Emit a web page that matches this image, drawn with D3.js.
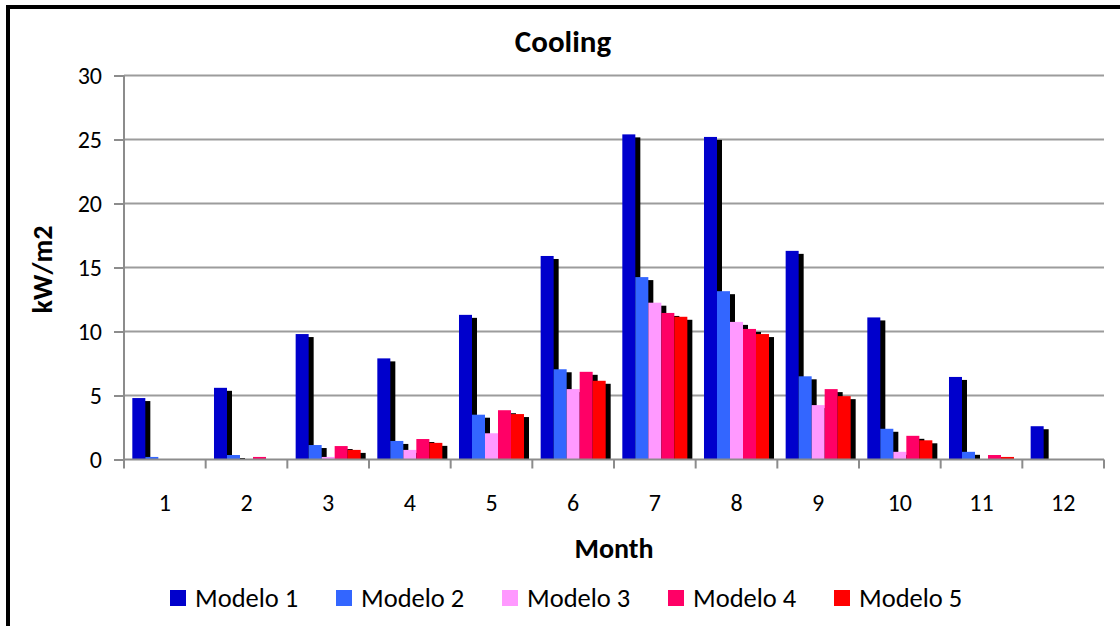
<!DOCTYPE html>
<html>
<head>
<meta charset="utf-8">
<script src="https://cdn.jsdelivr.net/npm/d3@7/dist/d3.min.js"></script>
<style>
  html, body { margin: 0; padding: 0; background: #fff; }
  svg { display: block; }
  text { font-family: Carlito, Calibri, Lato, sans-serif; fill: #000; }
</style>
</head>
<body>
<svg id="chart" width="1120" height="626"></svg>
<script>
// Monthly cooling demand per model (kW/m2)
const months = ["1", "2", "3", "4", "5", "6", "7", "8", "9", "10", "11", "12"];
const seriesNames = ["Modelo 1", "Modelo 2", "Modelo 3", "Modelo 4", "Modelo 5"];
const seriesColors = ["#0000CC", "#3366FF", "#FF99FF", "#FF0066", "#FF0000"];
const modelo1 = [4.8, 5.6, 9.8, 7.9, 11.3, 15.9, 25.4, 25.2, 16.3, 11.1, 6.45, 2.6];
const modelo2 = [0.2, 0.35, 1.13, 1.45, 3.5, 7.05, 14.25, 13.15, 6.5, 2.4, 0.6, 0];
const modelo3 = [0, 0, 0.2, 0.75, 2.05, 5.5, 12.25, 10.75, 4.25, 0.6, 0, 0];
const modelo4 = [0, 0.2, 1.05, 1.6, 3.85, 6.85, 11.45, 10.2, 5.5, 1.85, 0.35, 0];
const modelo5 = [0, 0, 0.75, 1.3, 3.55, 6.15, 11.15, 9.8, 4.95, 1.5, 0.2, 0];
const yTicks = [0, 5, 10, 15, 20, 25, 30];

const seriesValues = [modelo1, modelo2, modelo3, modelo4, modelo5];

const svg = d3.select("#chart");

// chart area frame
svg.append("rect")
  .attr("x", 8).attr("y", 7).attr("width", 1140).attr("height", 650)
  .attr("fill", "#fff").attr("stroke", "#000").attr("stroke-width", 4);

const plot = { left: 124, right: 1104, top: 75.5, bottom: 459.5 };

const x0 = d3.scaleBand().domain(months).range([plot.left, plot.right]).padding(0);
const x1 = d3.scaleBand().domain(seriesNames).range([0, x0.bandwidth()])
  .paddingInner(0).paddingOuter(0.64);
const y = d3.scaleLinear().domain([0, 30]).range([plot.bottom, plot.top]);

// horizontal gridlines
svg.append("g").selectAll("line").data(yTicks.slice(1)).join("line")
  .attr("x1", plot.left).attr("x2", plot.right)
  .attr("y1", d => y(d)).attr("y2", d => y(d))
  .attr("stroke", "#9c9c9c").attr("stroke-width", 2);

// bars with drop shadow
const shadowDx = 5, shadowDy = 3;
const bars = svg.append("g");
seriesNames.forEach((name, si) => {
  const vals = seriesValues[si];
  const g = bars.append("g");
  months.forEach((m, mi) => {
    const v = vals[mi];
    if (v <= 0) return;
    const bx = x0(m) + x1(name);
    const top = y(v);
    g.append("rect")
      .attr("x", bx + shadowDx).attr("y", Math.min(top + shadowDy, y(0)))
      .attr("width", x1.bandwidth())
      .attr("height", Math.max(0, y(0) - top - shadowDy))
      .attr("fill", "#000");
    g.append("rect")
      .attr("x", bx).attr("y", top)
      .attr("width", x1.bandwidth()).attr("height", y(0) - top)
      .attr("fill", seriesColors[si]);
  });
});

// y axis
const yAxis = svg.append("g").attr("transform", `translate(${plot.left},0)`)
  .call(d3.axisLeft(y).tickValues(yTicks).tickSize(10).tickPadding(12).tickFormat(d3.format("d")));
yAxis.select(".domain").remove();
yAxis.selectAll(".tick line").attr("stroke", "#8c8c8c").attr("stroke-width", 2);
yAxis.selectAll(".tick text").attr("font-size", 24).attr("font-family", null);
yAxis.append("line").attr("x1", 0).attr("x2", 0)
  .attr("y1", plot.top).attr("y2", plot.bottom + 9)
  .attr("stroke", "#8c8c8c").attr("stroke-width", 2);

// x axis
const xAxis = svg.append("g").attr("transform", `translate(0,${plot.bottom})`);
xAxis.append("line").attr("x1", plot.left).attr("x2", plot.right)
  .attr("y1", 0).attr("y2", 0).attr("stroke", "#8c8c8c").attr("stroke-width", 2);
xAxis.selectAll(".bound").data(months).join("line")
  .attr("class", "bound")
  .attr("x1", d => x0(d) + x0.bandwidth()).attr("x2", d => x0(d) + x0.bandwidth())
  .attr("y1", 0).attr("y2", 9)
  .attr("stroke", "#8c8c8c").attr("stroke-width", 2);
xAxis.selectAll(".lbl").data(months).join("text")
  .attr("class", "lbl")
  .attr("x", d => x0(d) + x0.bandwidth() / 2).attr("y", 51.5)
  .attr("text-anchor", "middle").attr("font-size", 24)
  .text(d => d);

// titles
svg.append("text").attr("x", 563).attr("y", 52)
  .attr("text-anchor", "middle").attr("font-size", 31).attr("font-weight", "bold")
  .text("Cooling");
svg.append("text").attr("x", (plot.left + plot.right) / 2).attr("y", 558)
  .attr("text-anchor", "middle").attr("font-size", 28).attr("font-weight", "bold")
  .text("Month");
svg.append("text")
  .attr("transform", `translate(52,${(plot.top + plot.bottom) / 2 + 2}) rotate(-90)`)
  .attr("text-anchor", "middle").attr("font-size", 28).attr("font-weight", "bold")
  .text("kW/m2");

// legend
const legend = svg.append("g");
seriesNames.forEach((name, i) => {
  const lx = 170 + i * 166;
  legend.append("rect").attr("x", lx).attr("y", 590).attr("width", 16).attr("height", 16)
    .attr("fill", seriesColors[i]);
  legend.append("text").attr("x", lx + 25).attr("y", 607)
    .attr("font-size", 26.5).text(name);
});
</script>
</body>
</html>
